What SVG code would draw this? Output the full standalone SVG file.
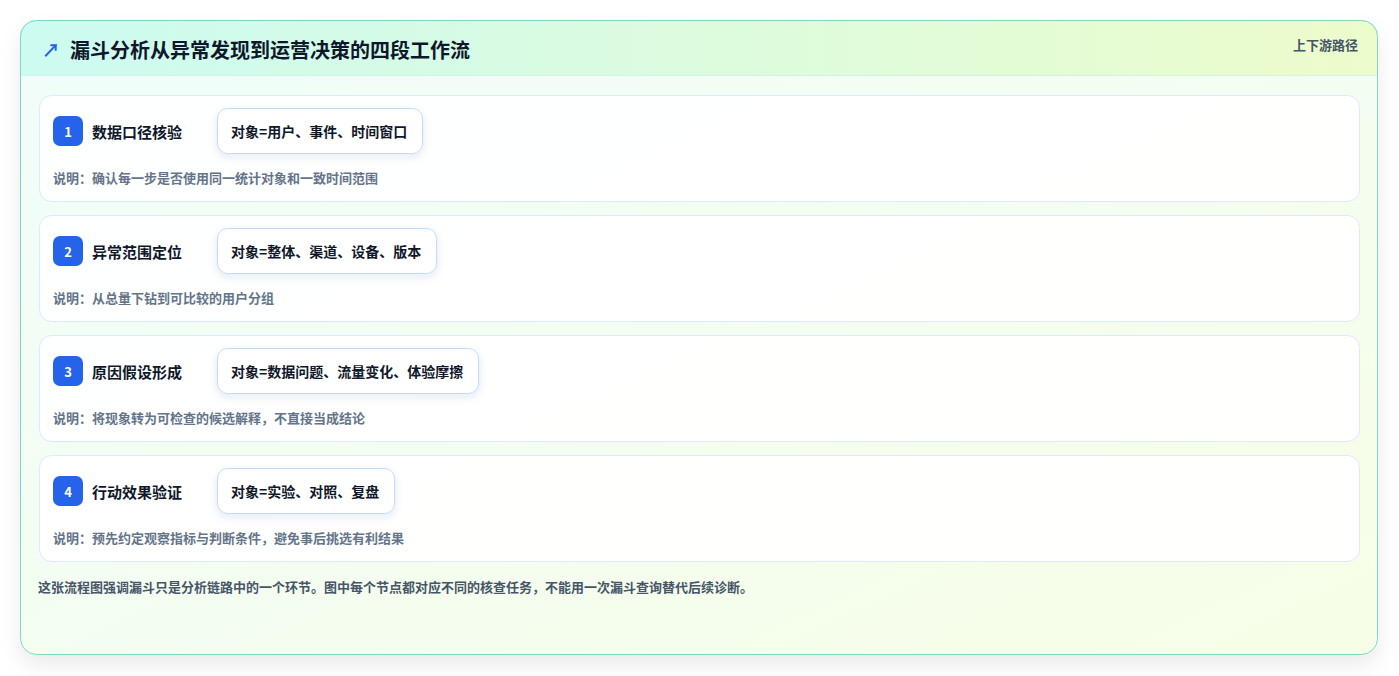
<svg xmlns="http://www.w3.org/2000/svg" width="1399" height="676" viewBox="0 0 1399 676">
<defs>
<linearGradient id="hdr" x1="0" y1="0" x2="1" y2="0">
<stop offset="0" stop-color="#ccfbf1"/>
<stop offset="1" stop-color="#ecfccb"/>
</linearGradient>
<linearGradient id="body" x1="0" y1="0" x2="1" y2="1">
<stop offset="0" stop-color="#f0fdfa"/>
<stop offset="1" stop-color="#f7fee7"/>
</linearGradient>
<clipPath id="outerClip"><rect x="20" y="20" width="1358" height="635" rx="16"/></clipPath>
<filter id="outerShadow" x="-5%" y="-8%" width="110%" height="120%">
<feDropShadow dx="0" dy="10" stdDeviation="10" flood-color="#0f172a" flood-opacity="0.08"/>
</filter>
<filter id="chipShadow" x="-10%" y="-30%" width="120%" height="170%">
<feDropShadow dx="0" dy="3" stdDeviation="4" flood-color="#1e3a8a" flood-opacity="0.10"/>
</filter>
</defs>
<style>
text{font-family:"Noto Sans CJK SC","Noto Sans",sans-serif;dominant-baseline:central}
.card{fill:#ffffff;fill-opacity:0.92;stroke:#dbeafe;stroke-width:1}
.badge{fill:#2563eb}
.num{fill:#ffffff;font-size:13px;font-weight:700;text-anchor:middle}
.ttl{fill:#0f172a;font-size:15px;font-weight:700}
.chip{fill:#ffffff;stroke:#bfdbfe;stroke-width:1}
.chipt{fill:#0f172a;font-size:14px;font-weight:700}
.desc{fill:#64748b;font-size:13px;font-weight:700}
</style>
<g id="frame">
<rect x="20" y="20" width="1358" height="635" rx="16" fill="url(#body)" filter="url(#outerShadow)"/>
<g clip-path="url(#outerClip)">
<rect x="20" y="20" width="1358" height="55" fill="url(#hdr)"/>
<line x1="20" y1="75.5" x2="1378" y2="75.5" stroke="#d1f2ea" stroke-width="1"/>
</g>
<rect x="20.5" y="20.5" width="1357" height="634" rx="16" fill="none" stroke="#7dd8c8" stroke-width="1"/>
<text x="42" y="49" font-size="18" fill="#2563eb" font-weight="700">↗</text>
<text x="70" y="49" font-size="20" font-weight="700" fill="#0f172a">漏斗分析从异常发现到运营决策的四段工作流</text>
<text x="1358" y="44" font-size="13" font-weight="700" fill="#475569" text-anchor="end">上下游路径</text>
</g>
<g id="connectors"></g>
<g id="step1">
<rect class="card" x="39.5" y="95.5" width="1320" height="106" rx="12"/>
<rect class="badge" x="53" y="116" width="30" height="30" rx="7"/>
<text class="num" x="68" y="131">1</text>
<text class="ttl" x="92" y="131">数据口径核验</text>
<rect class="chip" x="217.5" y="108.5" width="205" height="45" rx="10" filter="url(#chipShadow)"/>
<text class="chipt" x="231" y="131">对象=用户、事件、时间窗口</text>
<text class="desc" x="53" y="177.5">说明：确认每一步是否使用同一统计对象和一致时间范围</text>
</g>
<g id="step2">
<rect class="card" x="39.5" y="215.5" width="1320" height="106" rx="12"/>
<rect class="badge" x="53" y="236" width="30" height="30" rx="7"/>
<text class="num" x="68" y="251">2</text>
<text class="ttl" x="92" y="251">异常范围定位</text>
<rect class="chip" x="217.5" y="228.5" width="219" height="45" rx="10" filter="url(#chipShadow)"/>
<text class="chipt" x="231" y="251">对象=整体、渠道、设备、版本</text>
<text class="desc" x="53" y="297.5">说明：从总量下钻到可比较的用户分组</text>
</g>
<g id="step3">
<rect class="card" x="39.5" y="335.5" width="1320" height="106" rx="12"/>
<rect class="badge" x="53" y="356" width="30" height="30" rx="7"/>
<text class="num" x="68" y="371">3</text>
<text class="ttl" x="92" y="371">原因假设形成</text>
<rect class="chip" x="217.5" y="348.5" width="261" height="45" rx="10" filter="url(#chipShadow)"/>
<text class="chipt" x="231" y="371">对象=数据问题、流量变化、体验摩擦</text>
<text class="desc" x="53" y="417.5">说明：将现象转为可检查的候选解释，不直接当成结论</text>
</g>
<g id="step4">
<rect class="card" x="39.5" y="455.5" width="1320" height="106" rx="12"/>
<rect class="badge" x="53" y="476" width="30" height="30" rx="7"/>
<text class="num" x="68" y="491">4</text>
<text class="ttl" x="92" y="491">行动效果验证</text>
<rect class="chip" x="217.5" y="468.5" width="177" height="45" rx="10" filter="url(#chipShadow)"/>
<text class="chipt" x="231" y="491">对象=实验、对照、复盘</text>
<text class="desc" x="53" y="537.5">说明：预先约定观察指标与判断条件，避免事后挑选有利结果</text>
</g>
<g id="footer">
<text x="38" y="586" font-size="13" font-weight="700" fill="#475569">这张流程图强调漏斗只是分析链路中的一个环节。图中每个节点都对应不同的核查任务，不能用一次漏斗查询替代后续诊断。</text>
</g>
</svg>
